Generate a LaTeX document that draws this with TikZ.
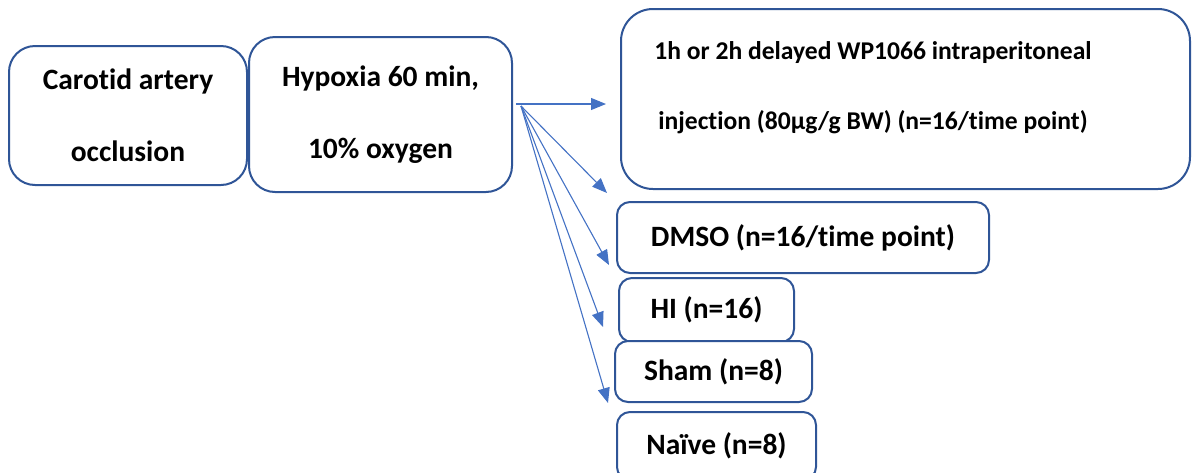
\documentclass[tikz,border=0pt]{standalone}
\usepackage{fontspec}
\setmainfont{Carlito}[RawFeature={-liga}]
\usetikzlibrary{arrows.meta}
\definecolor{boxblue}{RGB}{47,85,151}
\definecolor{arrblue}{RGB}{68,114,196}
\begin{document}
\begin{tikzpicture}[x=1pt,y=-1pt,
  box/.style={draw=boxblue, line width=2pt, fill=white, inner sep=0pt, align=center,
    font=\fontsize{29.5}{72}\selectfont\bfseries},
  txt/.style={inner sep=0pt, align=center, font=\fontsize{25.6}{70}\selectfont\bfseries},
  arr/.style={draw=arrblue, line width=1.1pt, -{Triangle[length=15pt,width=12pt]}}]
\useasboundingbox (0,0) rectangle (1192,472);
\node[box, rounded corners=26pt, minimum width=238pt, minimum height=139pt] (carotid) at (128,115.5)
  {Carotid artery\\occlusion};
\node[box, rounded corners=26pt, minimum width=263pt, minimum height=155pt] (hypoxia) at (380.5,114.5)
  {Hypoxia 60 min,\\10\% oxygen};
\node[box, rounded corners=32pt, minimum width=569pt, minimum height=180pt] (wp) at (905.5,99) {};
\node[txt] (wptext) at (873,88)
  {1h or 2h delayed WP1066 intraperitoneal\\injection (80µg/g BW) (n=16/time point)};
\node[box, rounded corners=13pt, minimum width=372pt, minimum height=71pt] (dmso) at (803,237.5)
  {DMSO (n=16/time point)};
\node[box, rounded corners=13pt, minimum width=175pt, minimum height=64pt] (hi) at (706.5,310)
  {HI (n=16)};
\node[box, rounded corners=13pt, minimum width=197pt, minimum height=61pt] (sham) at (713.5,371.5)
  {Sham (n=8)};
\node[box, rounded corners=13pt, minimum width=199pt, minimum height=68pt] (naive) at (716.5,446)
  {Naïve (n=8)};
\coordinate (o1) at (516,104);
\coordinate (o2) at (521,106);
\coordinate (e1) at (606,104);
\coordinate (e2) at (607,193);
\coordinate (e3) at (609,265);
\coordinate (e4) at (603,327);
\coordinate (e5) at (608,403);
\draw[arr] (o1) -- (e1);
\draw[arr] (o2) -- (e2);
\draw[arr] (o2) -- (e3);
\draw[arr] (o2) -- (e4);
\draw[arr] (o2) -- (e5);
\end{tikzpicture}
\end{document}
